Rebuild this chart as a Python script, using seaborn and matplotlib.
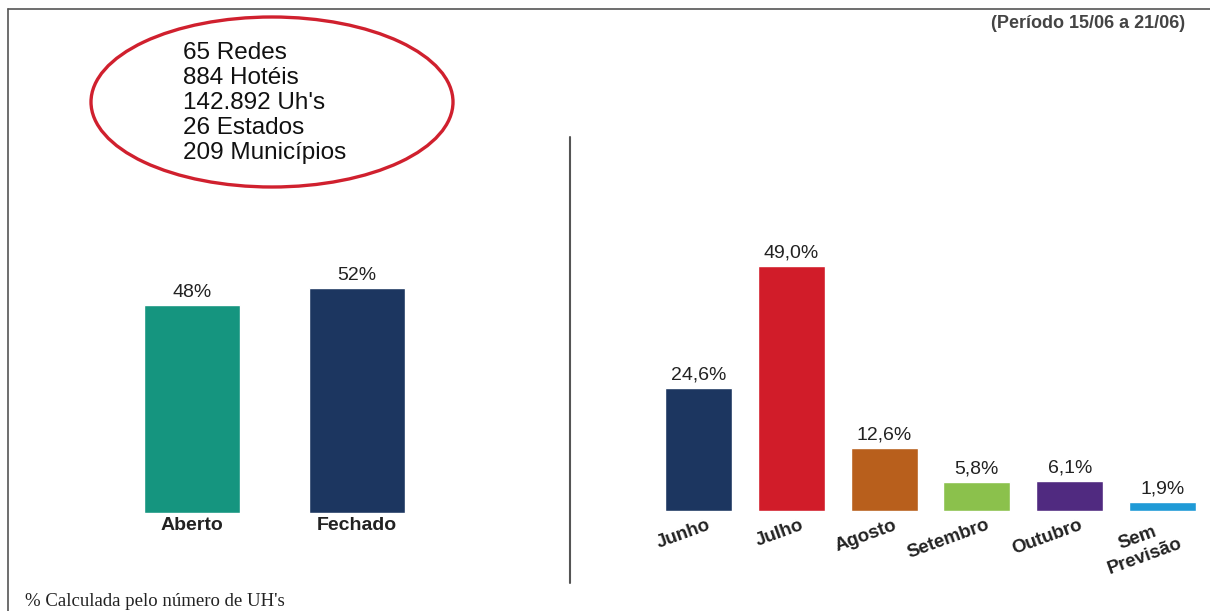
import matplotlib
matplotlib.use("Agg")
import matplotlib.pyplot as plt
import matplotlib.transforms as mtransforms
import seaborn as sns
import pandas as pd
from matplotlib.patches import Ellipse
from matplotlib.lines import Line2D

# ---- data ----
status_labels = ["Aberto", "Fechado"]
status_values = [48, 52]
status_colors = ["#15957f", "#1c3660"]

month_labels = ["Junho", "Julho", "Agosto", "Setembro", "Outubro", "Sem\nPrevisão"]
month_values = [24.6, 49.0, 12.6, 5.8, 6.1, 1.9]
month_colors = ["#1c3660", "#d11c29", "#b85f1c", "#8bc14c", "#502a80", "#1f9ad6"]

info_lines = ["65 Redes", "884 Hotéis", "142.892 Uh's", "26 Estados", "209 Municípios"]
period_text = "(Período 15/06 a 21/06)"
footnote_text = "% Calculada pelo número de UH's"

sns.set_theme(style="white")
plt.rcParams["font.family"] = ["Liberation Sans", "DejaVu Sans"]

W, H = 1210, 611
fig = plt.figure(figsize=(W / 100, H / 100), dpi=100)

def fx(px):
    return px / W

def fy(py):
    return 1 - py / H

# ---- left chart ----
axL = fig.add_axes([fx(109.5), fy(513), fx(330), 260 / H])
dfL = pd.DataFrame({"cat": status_labels, "val": status_values})
sns.barplot(data=dfL, x="cat", y="val", hue="cat", palette=status_colors,
            width=0.576, legend=False, ax=axL, saturation=1)
axL.set_xlim(-0.5, 1.5)
axL.set_ylim(0, 60)
for c, v in zip(axL.containers, status_values):
    axL.bar_label(c, labels=[f"{v}%"], padding=3, fontsize=14, color="#222222")
axL.set_xlabel("")
axL.set_ylabel("")
axL.set_yticks([])
axL.tick_params(axis="x", length=0, pad=3)
for t in axL.get_xticklabels():
    t.set_fontweight("bold")
    t.set_fontsize(14)
    t.set_color("#222222")
sns.despine(ax=axL, left=True, bottom=True)
axL.patch.set_alpha(0)

# ---- right chart ----
axR = fig.add_axes([fx(652), fy(511), fx(557), 300 / H])
dfR = pd.DataFrame({"cat": month_labels, "val": month_values})
sns.barplot(data=dfR, x="cat", y="val", hue="cat", palette=month_colors,
            width=0.72, legend=False, ax=axR, saturation=1)
axR.set_xlim(-0.5, 5.5)
axR.set_ylim(0, 60)
for c, v in zip(axR.containers, month_values):
    axR.bar_label(c, labels=[f"{v:.1f}%".replace(".", ",")], padding=3,
                  fontsize=14, color="#222222")
axR.set_xlabel("")
axR.set_ylabel("")
axR.set_yticks([])
axR.tick_params(axis="x", length=0, pad=4)
offset = mtransforms.ScaledTranslation(9 / 100, 0, fig.dpi_scale_trans)
for t in axR.get_xticklabels():
    t.set_fontweight("bold")
    t.set_fontsize(13.5)
    t.set_color("#222222")
    t.set_rotation(20)
    t.set_ha("right")
    t.set_rotation_mode("anchor")
    t.set_multialignment("center")
    t.set_transform(t.get_transform() + offset)
sns.despine(ax=axR, left=True, bottom=True)
axR.patch.set_alpha(0)

# ---- decorations ----
fig.add_artist(Line2D([fx(8), 1], [fy(9), fy(9)], color="#555555", lw=1.2))
fig.add_artist(Line2D([fx(8), fx(8)], [fy(9), 0], color="#555555", lw=1.2))
fig.add_artist(Line2D([fx(570), fx(570)], [fy(137), fy(583)], color="#555555", lw=1.5))

ell = Ellipse((fx(272), fy(102)), fx(362), 170 / H, transform=fig.transFigure,
              fill=False, edgecolor="#d0202e", lw=2.4)
fig.add_artist(ell)
for i, line in enumerate(info_lines):
    fig.text(fx(183), fy(53 + 25 * i), line, ha="left", va="center",
             fontsize=17.5, color="#111111")

fig.text(fx(1185), fy(24), period_text, ha="right", va="center",
         fontsize=13, fontweight="bold", color="#444444")
fig.text(fx(25), fy(601), footnote_text, ha="left", va="center",
         fontsize=13.5, color="#222222", family=["Liberation Serif", "DejaVu Serif"])

fig.savefig("out.png", dpi=100, facecolor="white")
